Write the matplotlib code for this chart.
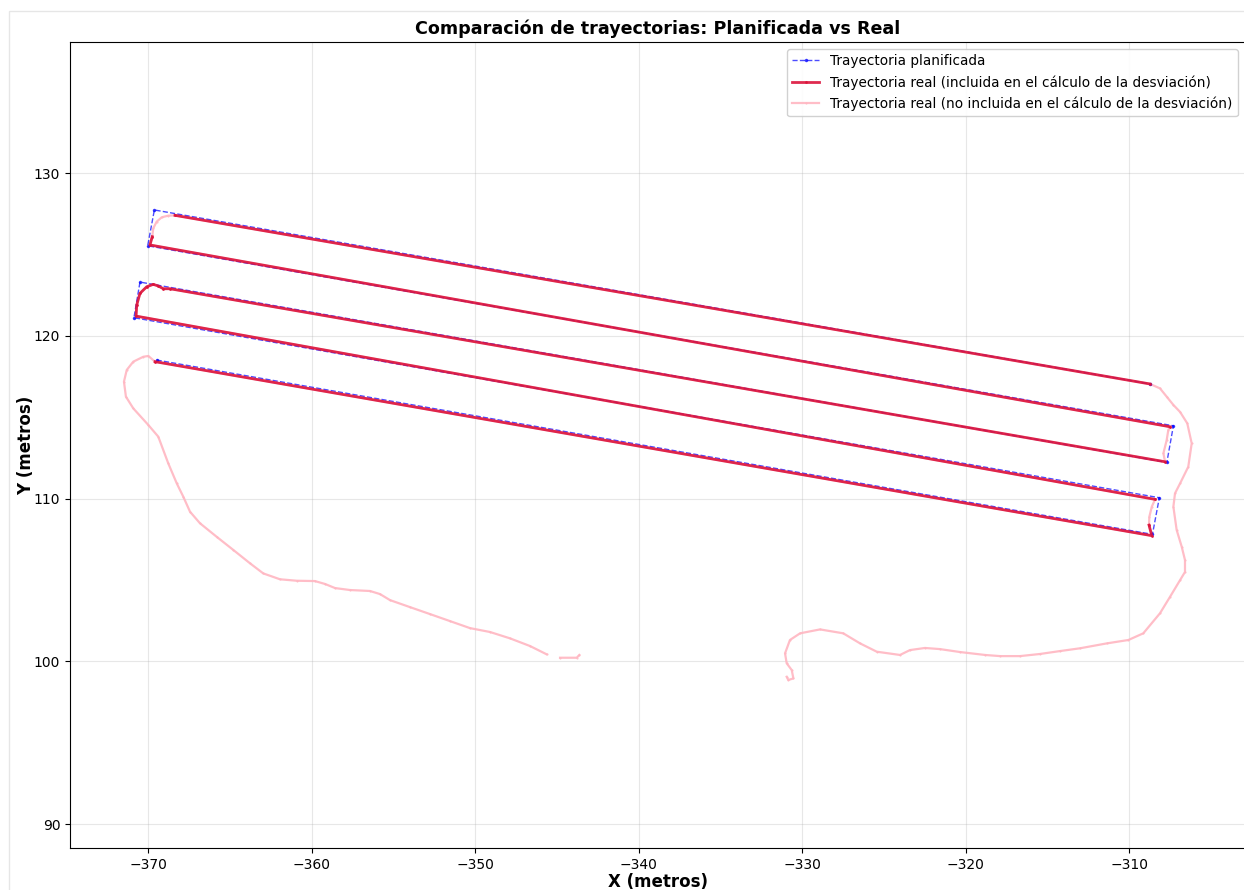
import numpy as np
import matplotlib
matplotlib.use("Agg")
import matplotlib.pyplot as plt
from matplotlib.patches import Rectangle

# Planned trajectory (waypoints, metres)
plan_x = [-369.47, -308.57, -308.15, -370.86, -370.49, -307.69, -307.29, -370.02, -369.61, -308.72]
plan_y = [118.51, 107.80, 110.05, 121.11, 123.30, 112.22, 114.47, 125.53, 127.73, 117.04]

# Real trajectory (metres); NaN marks a gap in the recording
real_x = [-343.62, -343.78, -344.80, np.nan, -345.62, -346.64, -347.86, -349.08, -350.31,
          -351.53, -352.75, -353.98, -355.20, -355.81, -356.42, -357.65, -358.56, -359.17,
          -359.79, -360.91, -361.93, -362.95, -363.76, -364.78, -365.80, -366.82, -367.43,
          -367.84, -368.24, -368.76, -369.37, -369.98, -370.90, -371.35, -371.47, -371.30,
          -370.90, -370.29, -369.98,
          # pass 1
          -369.57, -308.61,
          -308.78, -308.76, -308.61,
          # pass 2
          -308.41, -370.73,
          -370.69, -370.49, -370.08, -369.68, -369.37, -369.06,
          # pass 3
          -368.65, -307.80,
          -307.90, -307.70, -307.60,
          # pass 4
          -307.49, -369.88,
          -369.74, -369.68, -369.47, -369.16, -368.76,
          # pass 5
          -368.35, -308.72,
          # return
          -308.11, -307.70, -307.29, -306.88, -306.44, -306.17, -306.38, -306.88, -307.19,
          -307.29, -307.09, -306.78, -306.58, -306.58, -306.88, -307.49, -308.11, -309.13,
          -310.04, -311.37, -313.00, -314.22, -315.45, -316.67, -317.89, -318.81, -320.34,
          -321.56, -322.48, -323.40, -324.01, -325.43, -326.45, -327.48, -328.90, -330.12,
          -330.74, -331.04, -330.94, -330.63, -330.53, -330.84, -330.94]
real_y = [100.39, 100.22, 100.22, np.nan, 100.43, 100.94, 101.41, 101.80, 102.04,
          102.47, 102.90, 103.33, 103.76, 104.13, 104.32, 104.38, 104.50, 104.75,
          104.93, 104.95, 105.04, 105.40, 106.02, 106.84, 107.65, 108.48, 109.19,
          110.11, 110.93, 112.16, 113.80, 114.52, 115.54, 116.26, 117.18, 117.90,
          118.41, 118.71, 118.76,
          118.41, 107.72,
          108.37, 108.88, 109.50,
          109.95, 121.21,
          121.89, 122.61, 123.01, 123.16, 123.06, 122.89,
          122.89, 112.26,
          112.78, 113.59, 114.21,
          114.41, 125.58,
          126.09, 126.60, 127.01, 127.28, 127.38,
          127.40, 117.04,
          116.77, 116.26, 115.75, 115.32, 114.62, 113.39, 111.95, 110.93, 110.32,
          109.50, 108.07, 107.04, 106.22, 105.49, 104.99, 103.97, 102.95, 101.72,
          101.31, 101.10, 100.80, 100.63, 100.45, 100.32, 100.32, 100.39, 100.57,
          100.75, 100.82, 100.69, 100.39, 100.59, 101.10, 101.72, 101.96, 101.72,
          101.31, 100.49, 99.88, 99.46, 98.95, 98.85, 99.05]
# 1 = point included in the deviation calculation
incluido = [0] * 39 + [1, 1, 1, 0, 0, 1, 1, 1, 1, 1, 1, 1, 1, 1, 1, 0, 0, 0,
                       1, 1, 1, 0, 0, 0, 0, 1, 1] + [0] * 43

real_x = np.array(real_x, dtype=float)
real_y = np.array(real_y, dtype=float)
mask = np.array(incluido, dtype=bool)
inc_x = np.where(mask, real_x, np.nan)
inc_y = np.where(mask, real_y, np.nan)

fig = plt.figure(figsize=(12.44, 8.90), dpi=100)
fig.patches.append(Rectangle((9 / 1244, -0.1), 1.2, 1.1 - 11 / 890,
                             transform=fig.transFigure, fill=False,
                             edgecolor='#e6e6e6', lw=1.0, zorder=0))
ax = fig.add_axes([70 / 1244, 42 / 890, 1175 / 1244, 806 / 890])

ax.plot(plan_x, plan_y, '--', color='blue', lw=1.0, alpha=0.7, marker='.', markersize=3,
        label='Trayectoria planificada', zorder=3)
ax.plot(inc_x, inc_y, '-', color='crimson', lw=2.0, alpha=0.9, marker='.', markersize=2,
        label='Trayectoria real (incluida en el cálculo de la desviación)', zorder=4)
ax.plot(real_x, real_y, '-', color='lightpink', lw=1.6, alpha=0.9, marker='.', markersize=1,
        label='Trayectoria real (no incluida en el cálculo de la desviación)', zorder=2)

ax.set_xlim(-374.77, -302.91)
ax.set_ylim(88.53, 138.05)
ax.set_xticks([-370, -360, -350, -340, -330, -320, -310])
ax.set_yticks([90, 100, 110, 120, 130])
ax.tick_params(labelsize=10)
ax.grid(True, alpha=0.3)
ax.set_title('Comparación de trayectorias: Planificada vs Real', fontsize=12.6, fontweight='bold', pad=6)
ax.set_xlabel('X (metros)', fontsize=12, fontweight='bold', labelpad=1)
ax.set_ylabel('Y (metros)', fontsize=12, fontweight='bold', labelpad=-1)
ax.legend(loc='upper right', fontsize=9.8, framealpha=0.9)

fig.savefig('out.png', dpi=100)
